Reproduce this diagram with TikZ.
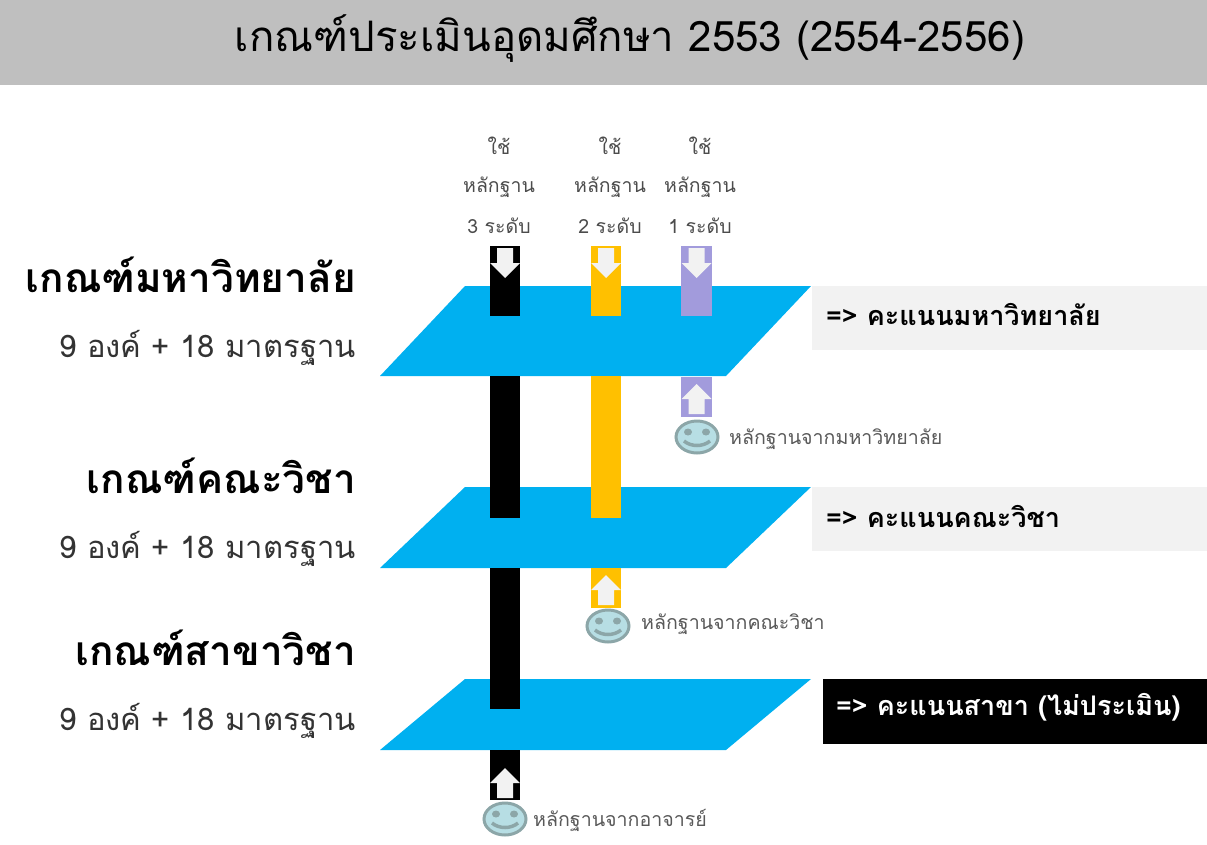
\documentclass[tikz,border=0pt]{standalone}
\usepackage{fontspec}
\usepackage{xcolor}
\usetikzlibrary{positioning}
\newfontfamily\thaifont[Script=Thai]{Loma}
\definecolor{planeblue}{HTML}{00B0F0}
\definecolor{barorange}{HTML}{FFC000}
\definecolor{barpurple}{HTML}{A29BDC}
\definecolor{paleback}{HTML}{F2F2F2}
\definecolor{titlegrey}{HTML}{BFBFBF}
\definecolor{faceblue}{HTML}{B7DEE4}
\definecolor{faceedge}{HTML}{8CA6A8}
\tikzset{
    thaitext/.style={font=\thaifont\fontsize{#1}{#1}\selectfont, inner sep=0pt},
    levelname/.style={inner sep=0pt, font=\thaifont\bfseries\fontsize{40.5}{41}\selectfont, anchor=east},
    levelnote/.style={thaitext=31, text=black!80, anchor=east},
    usetext/.style={thaitext=19.5, text=black!70},
    sourcetext/.style={thaitext=19.6, text=black!65, anchor=west},
    scoretext/.style={inner sep=0pt, font=\thaifont\bfseries\fontsize{27}{27}\selectfont, anchor=west},
    plane/.style={fill=planeblue},
    downarrow/.pic={
        \fill[paleback] (-8,0) -- (8,0) -- (8,15) -- (15,15) -- (0,30) -- (-15,15) -- (-8,15) -- cycle;
    },
    uparrow/.pic={
        \fill[paleback] (-8,0) -- (8,0) -- (8,-15) -- (15,-15) -- (0,-30) -- (-15,-15) -- (-8,-15) -- cycle;
    },
    smiley/.pic={
        \draw[faceedge, fill=faceblue, line width=3pt] (0,0) ellipse (21 and 16);
        \fill[faceedge] (-9,-5) ellipse (4 and 3.5);
        \fill[faceedge] (9,-5) ellipse (4 and 3.5);
        \draw[faceedge, line width=3.5pt] (-13,4) .. controls (-6,10) and (6,10) .. (13,4);
    }
}
\begin{document}
\begin{tikzpicture}[x=1pt, y=-1pt]
    \useasboundingbox (0,0) rectangle (1207,844);
    \fill[titlegrey] (0,0) rectangle (1207,85);
    \node[thaitext=42] (title) at (630,38.5) {เกณฑ์ประเมินอุดมศึกษา 2553 (2554-2556)};

    % planes
    \fill[plane] (465,286) -- (811,286) -- (726,376) -- (380,376) -- cycle;
    \fill[plane] (465,487) -- (811,487) -- (726,568) -- (380,568) -- cycle;
    \fill[plane] (465,679) -- (811,679) -- (726,750) -- (380,750) -- cycle;

    % bars
    \fill[black] (490,246) rectangle (520,316);
    \fill[black] (490,376) rectangle (520,518);
    \fill[black] (490,568) rectangle (520,709);
    \fill[black] (490,750) rectangle (520,800);
    \fill[barorange] (591,246) rectangle (621,316);
    \fill[barorange] (591,376) rectangle (621,518);
    \fill[barorange] (591,568) rectangle (621,608);
    \fill[barpurple] (681,246) rectangle (712,316);
    \fill[barpurple] (681,377) rectangle (712,417);

    % arrows
    \pic at (505,248) {downarrow};
    \pic at (606,248) {downarrow};
    \pic at (696.5,248) {downarrow};
    \pic at (696.5,414) {uparrow};
    \pic at (606,605) {uparrow};
    \pic at (505,798) {uparrow};

    % faces
    \pic at (697,437) {smiley};
    \pic at (608,626) {smiley};
    \pic at (505,819) {smiley};

    % left labels
    \node[levelname] (uni) at (356,275) {เกณฑ์มหาวิทยาลัย};
    \node[levelnote] (uninote) at (356,348) {9 องค์ + 18 มาตรฐาน};
    \node[levelname] (fac) at (356,476) {เกณฑ์คณะวิชา};
    \node[levelnote] (facnote) at (356,549) {9 องค์ + 18 มาตรฐาน};
    \node[levelname] (dep) at (356,648) {เกณฑ์สาขาวิชา};
    \node[levelnote] (depnote) at (356,721) {9 องค์ + 18 มาตรฐาน};

    % top labels
    \foreach \px/\lv/\py in {499/3/a, 610/2/b, 700/1/c} {
        \node[usetext] (use\py) at (\px,146) {ใช้};
        \node[usetext] (evi\py) at (\px,187) {หลักฐาน};
        \node[usetext] (lev\py) at (\px,226) {\lv{} ระดับ};
    }

    % score boxes
    \fill[paleback] (812,286) rectangle (1207,350);
    \fill[paleback] (812,487) rectangle (1207,551);
    \fill[black] (823,679) rectangle (1207,744);
    \node[scoretext] (score1) at (826,314) {=> คะแนนมหาวิทยาลัย};
    \node[scoretext] (score2) at (826,516) {=> คะแนนคณะวิชา};
    \node[scoretext, text=white] (score3) at (836,707) {=> คะแนนสาขา (ไม่ประเมิน)};

    % sources
    \node[sourcetext] (src1) at (729,439) {หลักฐานจากมหาวิทยาลัย};
    \node[sourcetext] (src2) at (641,624) {หลักฐานจากคณะวิชา};
    \node[sourcetext] (src3) at (533,820) {หลักฐานจากอาจารย์};
\end{tikzpicture}
\end{document}
